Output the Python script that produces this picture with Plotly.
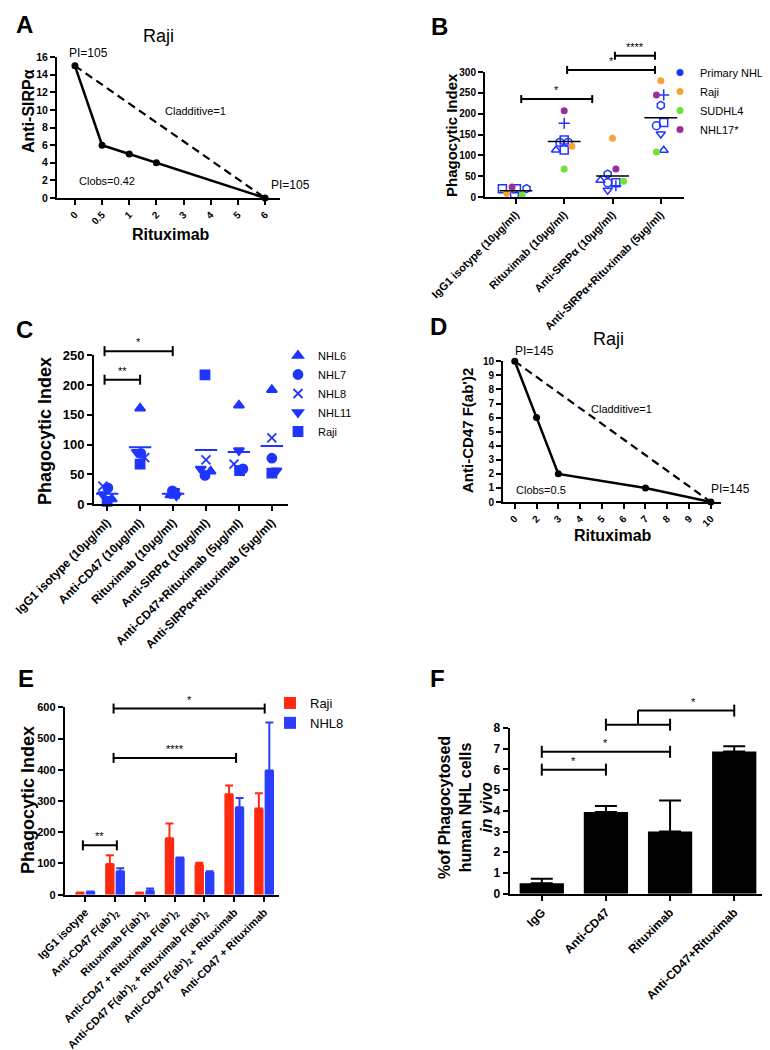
import plotly.graph_objects as go
import numpy as np

W, H = 770, 1050
FONT = "Liberation Sans, Arial, Helvetica, sans-serif"
BLUE = "#1f35ff"
ORANGE = "#f7a33a"
GREEN = "#6ee236"
PURPLE = "#9b2f98"
RED = "#ff2a10"
EBLUE = "#2b3dff"

# ---------------- Panel A data ----------------
a_title = "Raji"
a_x_categories = ["0", "0.5", "1", "2", "3", "4", "5", "6"]
a_rituximab = ["0", "0.5", "1", "2", "6"]
a_anti_sirpa = [15, 6, 5, 4, 0]
a_additive_x = ["0", "6"]
a_additive_y = [15, 0]

# ---------------- Panel B data ----------------
b_groups = ["IgG1 isotype (10μg/ml)", "Rituximab (10μg/ml)",
            "Anti-SIRPα (10μg/ml)", "Anti-SIRPα+Rituximab (5μg/ml)"]
b_primary_values = [[20, 20, 6, 20],
                    [177, 137, 131, 131, 113, 113],
                    [55, 40, 34, 34, 27, 16],
                    [245, 220, 179, 171, 151, 112]]
b_primary_symbols = [["square-open", "square-open", "circle-open", "hexagon-open"],
                     ["cross-thin-open", "square-open", "circle-open", "circle-open", "triangle-up-open", "square-open"],
                     ["hexagon-open", "triangle-up-open", "circle-open", "square-open", "cross-thin-open", "triangle-down-open"],
                     ["cross-thin-open", "hexagon-open", "square-open", "circle-open", "triangle-down-open", "triangle-up-open"]]
b_primary_jitter = [[-0.28, 0.01, -0.03, 0.22],
                    [0.0, 0.0, -0.09, 0.08, -0.17, 0.0],
                    [-0.1, -0.25, -0.1, 0.07, 0.07, -0.1],
                    [0.06, 0.0, 0.06, -0.09, 0.0, 0.06]]
b_raji = [9, 122, 141, 279]
b_raji_jitter = [-0.19, 0.16, 0.0, 0.0]
b_sudhl4 = [6, 67, 38, 108]
b_sudhl4_jitter = [0.13, 0.0, 0.23, -0.09]
b_nhl17 = [24, 207, 67, 245]
b_nhl17_jitter = [-0.08, 0.0, 0.07, -0.09]
b_legend = ["Primary NHL", "Raji", "SUDHL4", "NHL17*"]
b_brackets = [(0.11, 1.58, 235, "*"), (1.06, 2.88, 305, "*"), (2.05, 2.88, 339, "****")]

# ---------------- Panel C data ----------------
c_groups = ["IgG1 isotype (10μg/ml)", "Anti-CD47 (10μg/ml)", "Rituximab (10μg/ml)",
            "Anti-SIRPα (10μg/ml)", "Anti-CD47+Rituximab (5μg/ml)", "Anti-SIRPα+Rituximab (5μg/ml)"]
c_series = ["NHL6", "NHL7", "NHL8", "NHL11", "Raji"]
c_nhl6 = [8.4, 161, 15, 55, 166, 192]
c_nhl7 = [27, 85, 22, 48, 59, 77]
c_nhl8 = [30, 78, 18, 74, 67, 111]
c_nhl11 = [16, 87, 14, 59, 90, 56]
c_raji = [4.5, 67, 18, 217, 56, 52]
c_symbols = ["triangle-up", "circle", "x-thin-open", "triangle-down", "square"]
c_jitter = [[0.14, 0.0, -0.08, 0.14, 0.0, 0.0],
            [0.02, 0.02, -0.02, -0.03, 0.12, 0.0],
            [-0.13, 0.14, 0.06, 0.0, -0.15, 0.0],
            [-0.13, -0.1, 0.1, -0.16, 0.0, 0.14],
            [0.0, 0.0, 0.04, -0.03, 0.02, 0.0]]
c_brackets = [(-0.08, 1.0, 209, "**"), (-0.08, 1.99, 257, "*")]

# ---------------- Panel D data ----------------
d_title = "Raji"
d_x_categories = ["0", "2", "3", "4", "5", "6", "7", "8", "9", "10"]
d_rituximab = ["0", "2", "3", "7", "10"]
d_anti_cd47 = [10, 6, 2, 1, 0]
d_additive_x = ["0", "10"]
d_additive_y = [10, 0]

# ---------------- Panel E data ----------------
e_groups = ["IgG1 isotype", "Anti-CD47 F(ab')<sub>2</sub>", "Rituximab F(ab')<sub>2</sub>",
            "Anti-CD47 + Rituximab F(ab')<sub>2</sub>",
            "Anti-CD47 F(ab')<sub>2</sub> + Rituximab F(ab')<sub>2</sub>",
            "Anti-CD47 F(ab')<sub>2</sub> + Rituximab", "Anti-CD47 + Rituximab"]
e_raji = [7, 98, 7, 181, 96, 322, 276]
e_raji_err = [0, 28, 0, 47, 6, 28, 49]
e_nhl8 = [10, 75, 13, 119, 73, 280, 398]
e_nhl8_err = [0, 10, 7, 0, 2, 30, 153]
e_brackets = [(-0.08, 1.06, 158, "**"), (0.95, 5.06, 438, "****"), (0.95, 6.02, 596, "*")]

# ---------------- Panel F data ----------------
f_groups = ["IgG", "Anti-CD47", "Rituximab", "Anti-CD47+Rituximab"]
f_values = [0.5, 3.95, 3.0, 6.86]
f_err = [0.22, 0.29, 1.5, 0.26]
f_brackets = [(0, 1, 5.99, "*"), (0, 2, 6.85, "*")]

# ---------------- layout geometry (pixels) ----------------
PANELS = {
    'A': dict(px=(49, 272), py=(49, 190), xr=(-0.66, 7.55), yr=(0, 16), ax=('x', 'y')),
    'B': dict(px=(477, 676), py=(64, 189), xr=(-0.64, 3.48), yr=(0, 300), ax=('x2', 'y2')),
    'C': dict(px=(86, 280), py=(347.3, 496), xr=(-0.40, 5.49), yr=(0, 250), ax=('x3', 'y3')),
    'D': dict(px=(495, 713.3), py=(353.3, 494), xr=(-0.54, 9.48), yr=(0, 10), ax=('x4', 'y4')),
    'E': dict(px=(56.7, 270.7), py=(699.3, 886.7), xr=(-0.69, 6.49), yr=(0, 600), ax=('x5', 'y5')),
    'F': dict(px=(501.7, 758.3), py=(720, 885.7), xr=(-0.5, 3.5), yr=(0, 8), ax=('x6', 'y6')),
}


def P(x, y):
    return x / W, 1 - y / H


def to_paper(p, xv, yv):
    d = PANELS[p]
    x0, x1 = d['px']; y0, y1 = d['py']
    xr0, xr1 = d['xr']; yr0, yr1 = d['yr']
    px = x0 + (xv - xr0) / (xr1 - xr0) * (x1 - x0)
    py = y1 - (yv - yr0) / (yr1 - yr0) * (y1 - y0)
    return P(px, py)


fig = go.Figure()

# ---- A
fig.add_trace(go.Scatter(x=a_additive_x, y=a_additive_y, mode='lines',
                         line=dict(color='black', width=2.2, dash='8px,5px'),
                         xaxis='x', yaxis='y', showlegend=False, cliponaxis=False))
fig.add_trace(go.Scatter(x=a_rituximab, y=a_anti_sirpa, mode='lines+markers',
                         line=dict(color='black', width=2.5), marker=dict(size=7, color='black'),
                         xaxis='x', yaxis='y', showlegend=False, cliponaxis=False))

# ---- B
bx, by, bs = [], [], []
for g, (vals, syms, jit) in enumerate(zip(b_primary_values, b_primary_symbols, b_primary_jitter)):
    for v, s, j in zip(vals, syms, jit):
        bx.append(g + j); by.append(v); bs.append(s)
fig.add_trace(go.Scatter(x=bx, y=by, mode='markers',
                         marker=dict(symbol=bs, size=8, color=BLUE, line=dict(color=BLUE, width=1.5)),
                         xaxis='x2', yaxis='y2', showlegend=False, cliponaxis=False))
for vals, jit, col in [(b_raji, b_raji_jitter, ORANGE), (b_sudhl4, b_sudhl4_jitter, GREEN),
                       (b_nhl17, b_nhl17_jitter, PURPLE)]:
    fig.add_trace(go.Scatter(x=[g + j for g, j in enumerate(jit)], y=vals, mode='markers',
                             marker=dict(size=7, color=col), xaxis='x2', yaxis='y2',
                             showlegend=False, cliponaxis=False))
mx, my = [], []
for g in range(len(b_groups)):
    allv = b_primary_values[g] + [b_raji[g], b_sudhl4[g], b_nhl17[g]]
    m = float(np.mean(allv))
    mx += [g - 0.34, g + 0.34, None]; my += [m, m, None]
fig.add_trace(go.Scatter(x=mx, y=my, mode='lines', line=dict(color='black', width=1.5),
                         xaxis='x2', yaxis='y2', showlegend=False))
for name, col in zip(b_legend, [BLUE, ORANGE, GREEN, PURPLE]):
    fig.add_trace(go.Scatter(x=[None], y=[None], mode='markers', name=name,
                             marker=dict(size=7, color=col), xaxis='x2', yaxis='y2',
                             legend='legend'))

# ---- C
c_all = [c_nhl6, c_nhl7, c_nhl8, c_nhl11, c_raji]
for name, vals, sym, jit in zip(c_series, c_all, c_symbols, c_jitter):
    fig.add_trace(go.Scatter(x=[g + j for g, j in enumerate(jit)], y=vals, mode='markers', name=name,
                             marker=dict(symbol=sym, size=9, color=BLUE, line=dict(color=BLUE, width=1.8)),
                             xaxis='x3', yaxis='y3', legend='legend2', cliponaxis=False))
mx, my = [], []
for g in range(len(c_groups)):
    m = float(np.mean([s[g] for s in c_all]))
    mx += [g - 0.34, g + 0.34, None]; my += [m, m, None]
fig.add_trace(go.Scatter(x=mx, y=my, mode='lines', line=dict(color=BLUE, width=2),
                         xaxis='x3', yaxis='y3', showlegend=False))

# ---- D
fig.add_trace(go.Scatter(x=d_additive_x, y=d_additive_y, mode='lines',
                         line=dict(color='black', width=2.2, dash='8px,5px'),
                         xaxis='x4', yaxis='y4', showlegend=False, cliponaxis=False))
fig.add_trace(go.Scatter(x=d_rituximab, y=d_anti_cd47, mode='lines+markers',
                         line=dict(color='black', width=2.5), marker=dict(size=7, color='black'),
                         xaxis='x4', yaxis='y4', showlegend=False, cliponaxis=False))

# ---- E
fig.add_trace(go.Bar(x=e_groups, y=e_raji, name='Raji', marker=dict(color=RED, line=dict(width=0)),
                     error_y=dict(type='data', array=e_raji_err, arrayminus=[0] * len(e_raji),
                                  symmetric=False, color=RED, thickness=2, width=4),
                     xaxis='x5', yaxis='y5', legend='legend3'))
fig.add_trace(go.Bar(x=e_groups, y=e_nhl8, name='NHL8', marker=dict(color=EBLUE, line=dict(width=0)),
                     error_y=dict(type='data', array=e_nhl8_err, arrayminus=[0] * len(e_nhl8),
                                  symmetric=False, color=EBLUE, thickness=2, width=4),
                     xaxis='x5', yaxis='y5', legend='legend3'))

# ---- F
fig.add_trace(go.Bar(x=f_groups, y=f_values, width=0.69, marker=dict(color='black', line=dict(width=0)),
                     error_y=dict(type='data', array=f_err, arrayminus=[0] * len(f_err),
                                  symmetric=False, color='black', thickness=2, width=11),
                     xaxis='x6', yaxis='y6', showlegend=False))

# ---------------- axes ----------------
def common(size, bold=True):
    return dict(showline=True, linecolor='black', linewidth=2, ticks='outside', ticklen=5,
                tickwidth=2, tickcolor='black', showgrid=False, zeroline=False,
                tickfont=dict(family=FONT, size=size, color='black', weight='bold' if bold else 'normal'))


layout = {}
for key, d in PANELS.items():
    xa, ya = d['ax']
    xname = 'xaxis' if xa == 'x' else 'xaxis' + xa[1:]
    yname = 'yaxis' if ya == 'y' else 'yaxis' + ya[1:]
    layout[xname] = dict(domain=[d['px'][0] / W, d['px'][1] / W], anchor=ya, range=list(d['xr']))
    layout[yname] = dict(domain=[1 - d['py'][1] / H, 1 - d['py'][0] / H], anchor=xa, range=list(d['yr']))

layout['xaxis'].update(common(10), type='category', categoryorder='array', categoryarray=a_x_categories, tickangle=-45)
layout['yaxis'].update(common(10.5), dtick=2)
layout['xaxis2'].update(common(11), tickmode='array', tickvals=list(range(len(b_groups))), ticktext=b_groups, tickangle=-45)
layout['yaxis2'].update(common(10), dtick=50)
layout['xaxis3'].update(common(12), tickmode='array', tickvals=list(range(len(c_groups))), ticktext=c_groups, tickangle=-45)
layout['yaxis3'].update(common(13), dtick=50)
layout['xaxis4'].update(common(10), type='category', categoryorder='array', categoryarray=d_x_categories, tickangle=-45)
layout['yaxis4'].update(common(10), dtick=1)
layout['xaxis5'].update(common(11), type='category', tickangle=-45)
layout['yaxis5'].update(common(11), dtick=100)
layout['xaxis6'].update(common(12), type='category', tickangle=-45)
layout['yaxis6'].update(common(12), dtick=1)

shapes, annots = [], []


def add_bracket(p, x0, x1, y, label, cap=5):
    X0, Y = to_paper(p, x0, y)
    X1, _ = to_paper(p, x1, y)
    ln = dict(color='black', width=2)
    shapes.append(dict(type='line', xref='paper', yref='paper', x0=X0, x1=X1, y0=Y, y1=Y, line=ln))
    for X in (X0, X1):
        shapes.append(dict(type='line', xref='paper', yref='paper', x0=X, x1=X,
                           y0=Y - cap / H, y1=Y + cap / H, line=ln))
    annots.append(dict(text=label, x=(X0 + X1) / 2, y=Y + 1 / H, xref='paper', yref='paper',
                       xanchor='center', yanchor='bottom', showarrow=False,
                       font=dict(family=FONT, size=11, color='black')))


for b in b_brackets:
    add_bracket('B', *b, cap=4)
for b in c_brackets:
    add_bracket('C', *b)
for b in e_brackets:
    add_bracket('E', *b)
for b in f_brackets:
    add_bracket('F', *b, cap=6)
# combined bracket in F: (Anti-CD47, Rituximab) vs Anti-CD47+Rituximab
add_bracket('F', 1, 2, 8.16, "", cap=6)
sx, sy0 = to_paper('F', 1.5, 8.16)
_, sy1 = to_paper('F', 1.5, 8.84)
shapes.append(dict(type='line', xref='paper', yref='paper', x0=sx, x1=sx, y0=sy0, y1=sy1,
                   line=dict(color='black', width=2)))
ex, _ = to_paper('F', 3, 8.84)
shapes.append(dict(type='line', xref='paper', yref='paper', x0=sx, x1=ex, y0=sy1, y1=sy1,
                   line=dict(color='black', width=2)))
shapes.append(dict(type='line', xref='paper', yref='paper', x0=ex, x1=ex, y0=sy1 - 6 / H, y1=sy1 + 6 / H,
                   line=dict(color='black', width=2)))
annots.append(dict(text="*", x=(sx + ex) / 2 + 0.01, y=sy1 + 1 / H, xref='paper', yref='paper',
                   xanchor='center', yanchor='bottom', showarrow=False,
                   font=dict(family=FONT, size=11, color='black')))


def text(t, x, y, size, bold=False, angle=0, xanchor='center', yanchor='middle'):
    X, Y = P(x, y)
    annots.append(dict(text=t, x=X, y=Y, xref='paper', yref='paper', showarrow=False,
                       xanchor=xanchor, yanchor=yanchor, textangle=angle,
                       font=dict(family=FONT, size=size, color='black', weight='bold' if bold else 'normal')))


# panel letters
for lab, x, y in [("A", 16, 16), ("B", 431, 19), ("C", 16, 321), ("D", 430, 318), ("E", 18, 670), ("F", 429, 670)]:
    text(lab, x, y, 24, bold=True)

# Panel A texts
text(a_title, 150, 28, 18)
text("PI=105", 80, 45, 12)
text("PI=105", 282, 177, 12)
text("Cladditive=1", 187, 103, 11)
text("Clobs=0.42", 99, 173, 11)
text("Anti-SIRPα", 20, 103, 16, bold=True, angle=-90)
text("Rituximab", 163, 226, 16, bold=True)

# Panel B texts
text("Phagocytic Index", 444, 127, 15, bold=True, angle=-90)

# Panel C texts
text("Phagocytic Index", 37, 423, 18, bold=True, angle=-90)

# Panel D texts
text(d_title, 600, 331, 18)
text("PI=145", 526, 343, 12)
text("PI=145", 722, 481, 12)
text("Cladditive=1", 613, 401, 11)
text("Clobs=0.5", 533, 482, 11)
text("Anti-CD47 F(ab')2", 460, 423, 15, bold=True, angle=-90)
text("Rituximab", 605, 527, 16, bold=True)

# Panel E texts
text("Phagocytic Index", 20, 792, 18, bold=True, angle=-90)

# Panel F texts
text("%of Phagocytosed<br>human NHL cells<br><i>in vivo</i>", 457, 800, 16, bold=True, angle=-90)

lx, ly = P(652, 50)
lx2, ly2 = P(270, 333)
lx3, ly3 = P(262, 680)
fig.update_layout(
    width=W, height=H, margin=dict(l=0, r=0, t=0, b=0, autoexpand=False),
    paper_bgcolor='white', plot_bgcolor='white',
    font=dict(family=FONT, color='black'),
    barmode='group', bargap=0.3, bargroupgap=0.1,
    shapes=shapes, annotations=annots,
    legend=dict(x=lx, y=ly, xanchor='left', yanchor='top', bgcolor='rgba(0,0,0,0)',
                font=dict(family=FONT, size=11, color='black')),
    legend2=dict(x=lx2, y=ly2, xanchor='left', yanchor='top', bgcolor='rgba(0,0,0,0)',
                 font=dict(family=FONT, size=11, color='black'), itemwidth=30),
    legend3=dict(x=lx3, y=ly3, xanchor='left', yanchor='top', bgcolor='rgba(0,0,0,0)',
                 font=dict(family=FONT, size=13, color='black')),
    **layout,
)

fig.write_html("out.html")
